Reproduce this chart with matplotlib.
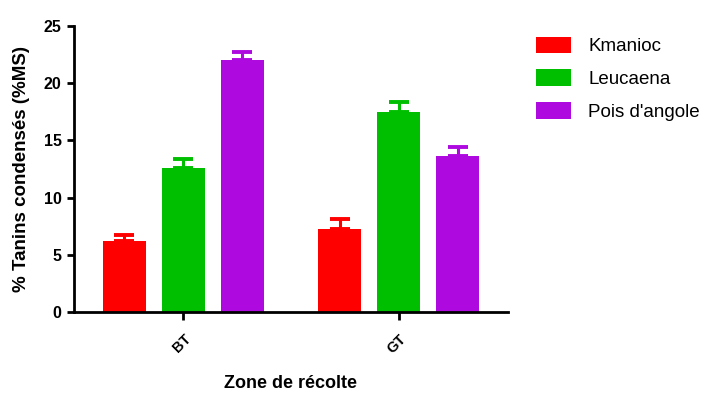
import numpy as np
import matplotlib.pyplot as plt

plt.rcParams['font.family'] = ['Liberation Sans', 'DejaVu Sans']

zones = ["BT", "GT"]
series = ["Kmanioc", "Leucaena", "Pois d'angole"]
means = [[6.2, 7.3],
         [12.55, 17.5],
         [22.0, 13.6]]
errs = [[0.5, 0.8],
        [0.8, 0.9],
        [0.75, 0.85]]
colors = ["#FF0000", "#00BF00", "#AE0AE0"]

fig = plt.figure(figsize=(7.22, 3.94), dpi=100)
ax = fig.add_axes([0.1025, 0.208, 0.601, 0.726])

x = np.arange(len(zones))
offset = 0.274
width = 0.2
for i, (name, m, e, c) in enumerate(zip(series, means, errs, colors)):
    pos = x + (i - 1) * offset
    ax.bar(pos, m, width, color=c, label=name, zorder=2)
    ax.errorbar(pos, m, yerr=[np.zeros(len(e)), e], fmt='none', ecolor=c,
                elinewidth=2.2, capsize=7, capthick=2.8, zorder=1)

ax.set_xlim(-0.508, 1.506)
ax.set_ylim(0, 25)
ax.set_yticks([0, 5, 10, 15, 20, 25])
ax.set_xticks(x)
ax.set_xticklabels(zones, rotation=45, ha='right', rotation_mode='anchor',
                   fontweight='bold', fontsize=10.5)
for lab in ax.get_yticklabels():
    lab.set_fontweight('bold')
    lab.set_fontsize(11.5)

for s in ['top', 'right']:
    ax.spines[s].set_visible(False)
for s in ['left', 'bottom']:
    ax.spines[s].set_linewidth(2)
ax.tick_params(axis='y', width=2, length=5, pad=4)
ax.tick_params(axis='x', width=2, length=6, pad=8)

ax.set_ylabel("% Tanins condensés (%MS)", fontweight='bold', fontsize=13.5,
              labelpad=10)
ax.set_xlabel("Zone de récolte", fontweight='bold', fontsize=13, labelpad=14)

ax.legend(loc='upper left', bbox_to_anchor=(1.025, 1.022), frameon=False,
          fontsize=13.5, handlelength=1.9, handleheight=1.0,
          labelspacing=0.75, handletextpad=0.9)

fig.savefig("out.png", dpi=100)
